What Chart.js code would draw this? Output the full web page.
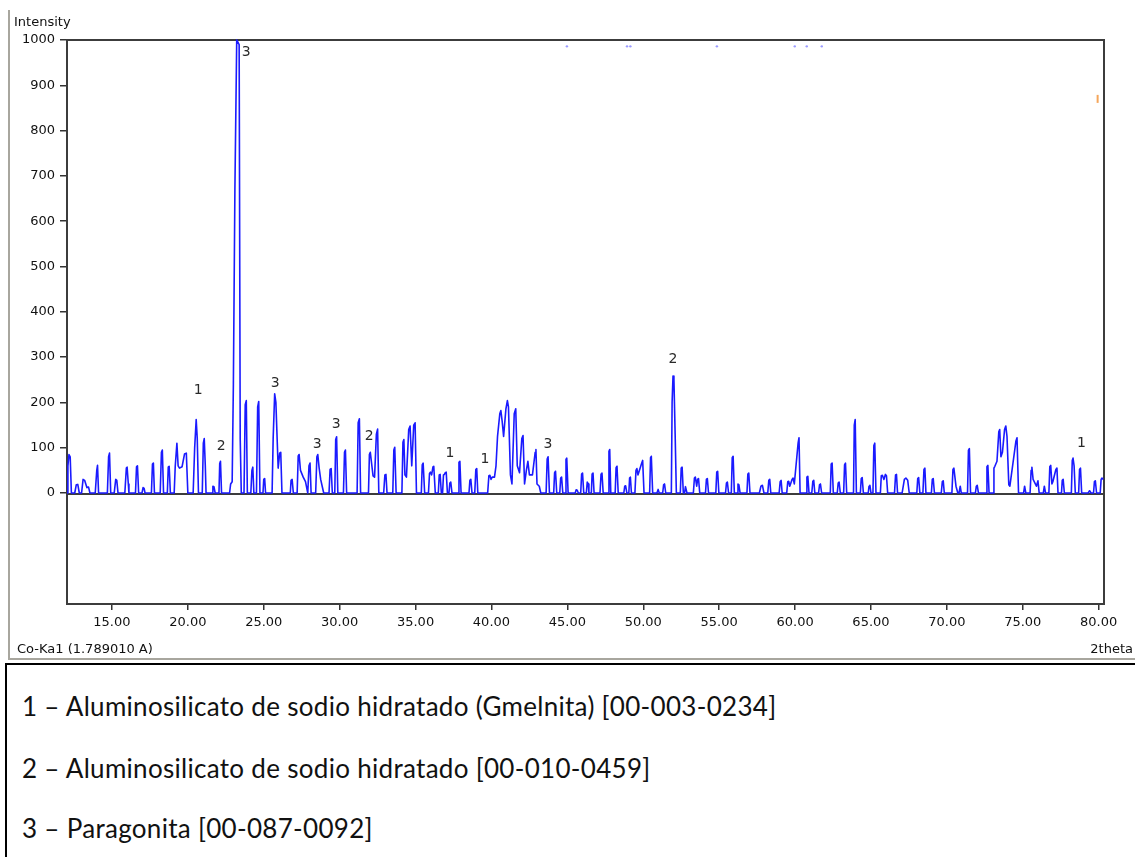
<!DOCTYPE html>
<html>
<head>
<meta charset="utf-8">
<title>XRD pattern</title>
<script src="https://cdn.jsdelivr.net/npm/chart.js@4.4.1/dist/chart.umd.min.js"></script>
<style>
    html, body {
        margin: 0;
        padding: 0;
        background: #ffffff;
        width: 1135px;
        height: 857px;
        overflow: hidden;
        position: relative;
        font-family: "DejaVu Sans", sans-serif;
    }
    #chartBox {
        position: absolute;
        left: 0;
        top: 0;
        width: 1135px;
        height: 660px;
    }
    .winLineV {
        position: absolute;
        left: 8px;
        top: 10px;
        width: 2px;
        height: 649px;
        background: #a8a69e;
    }
    .winLineH {
        position: absolute;
        left: 8px;
        top: 658px;
        width: 1127px;
        height: 2px;
        background: #a8a69e;
    }
    .axisText {
        position: absolute;
        font-size: 13px;
        line-height: 16px;
        color: #111;
        white-space: nowrap;
    }
    #legendBox {
        position: absolute;
        left: 5px;
        top: 663px;
        width: 1140px;
        height: 200px;
        border-left: 2px solid #000;
        border-top: 2px solid #000;
    }
    .legendLine {
        position: absolute;
        left: 15px;
        font-family: Lato, "Open Sans", sans-serif;
        font-size: 26px;
        line-height: 30px;
        letter-spacing: 0.3px;
        color: #111;
        white-space: nowrap;
    }
</style>
</head>
<body>

<div class="winLineV"></div>
<div class="winLineH"></div>

<div id="chartBox"><canvas id="xrdChart" width="1135" height="660"></canvas></div>

<div class="axisText" style="left:14px; top:14px;">Intensity</div>
<div class="axisText" style="left:17px; top:641px;">Co-Ka1 (1.789010 A)</div>
<div class="axisText" style="right:2px; top:641px;">2theta</div>

<div id="legendBox">
    <div class="legendLine" style="top:26px;">1 – Aluminosilicato de sodio hidratado (Gmelnita) [00-003-0234]</div>
    <div class="legendLine" style="top:88px;">2 – Aluminosilicato de sodio hidratado [00-010-0459]</div>
    <div class="legendLine" style="top:148px;">3 – Paragonita [00-087-0092]</div>
</div>

<script>
/* =========================
   DATA
========================= */

const twoTheta = [
    12.04, 12.1, 12.17, 12.25, 12.33, 12.55, 12.65, 12.75, 12.85, 13.0,
    13.1, 13.2, 13.35, 13.46, 13.55, 13.9, 14.0, 14.05, 14.12, 14.7,
    14.78, 14.84, 14.92, 15.15, 15.25, 15.32, 15.4, 15.85, 15.95, 16.0,
    16.08, 16.12, 16.55, 16.62, 16.68, 16.76, 16.98, 17.05, 17.12, 17.18,
    17.6, 17.67, 17.73, 17.8, 18.18, 18.26, 18.32, 18.4, 18.65, 18.71,
    18.77, 18.85, 19.1, 19.17, 19.28, 19.36, 19.45, 19.62, 19.78, 19.9,
    20.0, 20.35, 20.45, 20.55, 20.62, 20.7, 20.95, 21.02, 21.08, 21.15,
    21.2, 21.6, 21.65, 21.72, 21.8, 22.05, 22.1, 22.15, 22.22, 22.75,
    22.82, 22.92, 23.0, 23.1, 23.22, 23.38, 23.45, 23.52, 23.7, 23.78,
    23.85, 23.92, 24.15, 24.22, 24.28, 24.35, 24.52, 24.6, 24.67, 24.75,
    24.95, 25.0, 25.06, 25.12, 25.55, 25.62, 25.72, 25.8, 25.95, 26.05,
    26.12, 26.2, 26.75, 26.8, 26.87, 26.95, 27.2, 27.27, 27.33, 27.42,
    27.6, 27.75, 27.9, 27.98, 28.05, 28.12, 28.42, 28.5, 28.56, 28.65,
    28.75, 28.85, 28.95, 29.3, 29.37, 29.44, 29.52, 29.68, 29.74, 29.8,
    29.88, 30.25, 30.32, 30.38, 30.46, 31.15, 31.22, 31.3, 31.38, 31.9,
    31.96, 32.02, 32.2, 32.3, 32.42, 32.5, 32.58, 32.9, 32.98, 33.05,
    33.12, 33.5, 33.57, 33.63, 33.72, 34.1, 34.17, 34.23, 34.3, 34.4,
    34.55, 34.64, 34.75, 34.88, 34.97, 35.06, 35.38, 35.44, 35.5, 35.6,
    35.85, 35.92, 35.98, 36.06, 36.15, 36.2, 36.3, 36.5, 36.56, 36.62,
    36.7, 36.78, 36.84, 36.9, 36.96, 37.02, 37.1, 37.2, 37.26, 37.32,
    37.4, 37.8, 37.86, 37.92, 38.0, 38.52, 38.58, 38.64, 38.72, 38.9,
    38.97, 39.03, 39.1, 39.75, 39.83, 39.9, 39.97, 40.05, 40.2, 40.3,
    40.4, 40.55, 40.62, 40.7, 40.8, 40.95, 41.05, 41.12, 41.25, 41.35,
    41.5, 41.6, 41.7, 41.85, 42.0, 42.08, 42.18, 42.3, 42.4, 42.5,
    42.7, 42.88, 42.93, 43.0, 43.15, 43.25, 43.6, 43.67, 43.73, 43.82,
    44.1, 44.16, 44.22, 44.3, 44.5, 44.56, 44.62, 44.7, 44.85, 44.91,
    44.96, 45.05, 45.52, 45.58, 45.65, 45.72, 45.88, 45.94, 46.0, 46.08,
    46.25, 46.31, 46.38, 46.42, 46.58, 46.63, 46.69, 46.76, 47.15, 47.22,
    47.28, 47.36, 47.68, 47.74, 47.79, 47.86, 48.15, 48.21, 48.27, 48.35,
    48.72, 48.78, 48.84, 48.92, 49.05, 49.1, 49.15, 49.22, 49.45, 49.52,
    49.58, 49.65, 49.9, 49.96, 50.05, 50.42, 50.48, 50.53, 50.62, 50.9,
    50.98, 51.05, 51.28, 51.34, 51.4, 51.48, 51.85, 51.9, 51.96, 52.02,
    52.1, 52.18, 52.44, 52.5, 52.56, 52.64, 52.72, 52.78, 52.88, 53.3,
    53.37, 53.43, 53.52, 53.58, 53.64, 53.72, 54.1, 54.16, 54.22, 54.3,
    54.78, 54.84, 54.9, 54.98, 55.42, 55.48, 55.54, 55.62, 55.8, 55.86,
    55.92, 56.0, 56.18, 56.24, 56.3, 56.38, 56.83, 56.89, 56.95, 57.03,
    57.65, 57.75, 57.85, 57.95, 58.2, 58.27, 58.33, 58.4, 58.95, 59.02,
    59.08, 59.15, 59.45, 59.52, 59.58, 59.65, 59.8, 59.87, 59.95, 60.2,
    60.26, 60.33, 60.72, 60.78, 60.84, 60.92, 61.1, 61.17, 61.23, 61.3,
    61.55, 61.61, 61.67, 61.75, 62.32, 62.38, 62.44, 62.52, 62.78, 62.84,
    62.9, 62.98, 63.2, 63.26, 63.32, 63.4, 63.85, 63.9, 63.96, 64.04,
    64.3, 64.36, 64.42, 64.5, 64.82, 64.87, 64.93, 65.0, 65.13, 65.19,
    65.25, 65.33, 65.62, 65.68, 65.75, 65.85, 65.95, 66.02, 66.1, 66.55,
    66.62, 66.68, 66.75, 67.05, 67.2, 67.3, 67.42, 67.52, 68.02, 68.08,
    68.14, 68.22, 68.42, 68.49, 68.55, 68.62, 68.98, 69.04, 69.1, 69.18,
    69.63, 69.7, 69.76, 69.83, 70.33, 70.4, 70.46, 70.6, 70.72, 70.8,
    70.88, 70.95, 71.36, 71.42, 71.48, 71.56, 71.88, 71.94, 72.0, 72.08,
    72.58, 72.64, 72.7, 72.78, 73.05, 73.1, 73.16, 73.3, 73.42, 73.48,
    73.56, 73.66, 73.8, 73.88, 73.96, 74.08, 74.15, 74.55, 74.62, 74.72,
    75.05, 75.12, 75.2, 75.48, 75.55, 75.6, 75.68, 75.9, 76.0, 76.08,
    76.35, 76.42, 76.5, 76.72, 76.78, 76.84, 76.92, 76.98, 77.18, 77.25,
    77.32, 77.55, 77.6, 77.66, 77.74, 78.2, 78.26, 78.31, 78.38, 78.46,
    78.68, 78.74, 78.8, 78.88, 79.3, 79.4, 79.5, 79.66, 79.72, 79.78,
    79.86, 80.1, 80.16, 80.22, 80.3
];

const intensity = [
    0, 60, 85, 80, 0, 0, 18, 19, 0, 0,
    30, 28, 12, 13, 0, 0, 50, 61, 0, 0,
    80, 88, 0, 0, 30, 28, 0, 0, 55, 57,
    20, 0, 0, 58, 60, 0, 0, 12, 10, 0,
    0, 64, 66, 0, 0, 90, 95, 0, 0, 57,
    59, 0, 0, 59, 110, 60, 55, 58, 86, 88,
    0, 0, 100, 162, 120, 0, 0, 110, 120, 60,
    0, 0, 15, 14, 0, 0, 65, 70, 0, 0,
    20, 25, 240, 670, 1000, 990, 120, 0, 0, 195,
    204, 0, 0, 50, 57, 0, 0, 190, 202, 0,
    0, 30, 32, 0, 0, 120, 219, 200, 55, 88,
    90, 0, 0, 28, 30, 0, 0, 82, 85, 50,
    35, 25, 0, 60, 66, 0, 0, 80, 85, 55,
    30, 15, 0, 0, 52, 54, 0, 0, 118, 124,
    0, 0, 90, 95, 0, 0, 155, 164, 0, 0,
    85, 90, 38, 35, 130, 141, 0, 0, 40, 41,
    0, 0, 95, 101, 0, 0, 112, 118, 40, 35,
    140, 148, 60, 150, 155, 0, 0, 62, 66, 0,
    0, 43, 46, 40, 58, 59, 0, 0, 40, 41,
    0, 0, 40, 41, 45, 46, 0, 0, 22, 24,
    0, 0, 68, 70, 0, 0, 28, 30, 0, 0,
    52, 54, 0, 0, 38, 39, 30, 35, 35, 60,
    125, 175, 182, 160, 125, 185, 204, 190, 40, 20,
    175, 186, 60, 45, 120, 127, 20, 50, 70, 40,
    40, 90, 96, 20, 15, 0, 0, 75, 80, 0,
    0, 45, 48, 0, 0, 33, 35, 0, 0, 74,
    77, 0, 0, 7, 6, 0, 0, 42, 44, 0,
    0, 24, 20, 0, 0, 42, 44, 0, 0, 42,
    44, 0, 0, 92, 96, 0, 0, 56, 59, 0,
    0, 15, 16, 0, 0, 33, 35, 0, 0, 50,
    54, 40, 66, 72, 0, 0, 78, 81, 0, 0,
    8, 0, 0, 18, 20, 0, 0, 200, 258, 250,
    130, 0, 0, 55, 57, 0, 0, 14, 0, 0,
    33, 35, 15, 30, 32, 0, 0, 30, 32, 0,
    0, 46, 48, 0, 0, 22, 24, 0, 0, 78,
    81, 0, 0, 20, 18, 0, 0, 42, 44, 0,
    0, 15, 17, 0, 0, 28, 30, 0, 0, 25,
    28, 0, 0, 25, 26, 15, 30, 33, 20, 110,
    122, 0, 0, 35, 37, 0, 0, 26, 28, 0,
    0, 18, 20, 0, 0, 64, 66, 0, 0, 22,
    24, 0, 0, 62, 66, 0, 0, 150, 162, 0,
    0, 32, 34, 0, 0, 15, 17, 0, 0, 105,
    110, 0, 0, 38, 39, 30, 41, 38, 0, 0,
    40, 41, 0, 0, 30, 33, 28, 0, 0, 32,
    34, 0, 0, 52, 55, 0, 0, 30, 32, 0,
    0, 25, 27, 0, 0, 52, 55, 15, 0, 0,
    15, 0, 0, 94, 98, 0, 0, 15, 17, 0,
    0, 58, 61, 0, 0, 55, 59, 70, 135, 140,
    80, 90, 140, 148, 125, 18, 15, 115, 122, 0,
    0, 15, 0, 0, 50, 57, 30, 15, 27, 0,
    0, 15, 0, 0, 58, 61, 20, 25, 52, 55,
    0, 0, 28, 30, 0, 0, 72, 77, 60, 0,
    0, 52, 55, 0, 0, 5, 0, 0, 25, 27,
    0, 0, 30, 33, 30
];

// phase markers written over the peaks
const peakLabelText = ["3", "1", "2", "3", "3", "3", "2", "1", "1", "3", "2", "1"];
const peakLabelAngle = [23.84, 20.68, 22.2, 25.75, 28.52, 29.77, 31.94, 37.27, 39.57, 43.72, 51.96, 78.86];
const peakLabelIntensity = [973, 227, 103, 242, 107, 152, 125, 88, 74, 107, 295, 110];

// little reference marks near the top of the frame
const refMarkAngle = [44.97, 48.93, 49.15, 54.85, 59.98, 60.77, 61.76];
const refMarkIntensity = [986, 986, 986, 986, 986, 986, 986];
const otherMarkAngle = [79.93];
const otherMarkIntensity = [870];

// axes
const xTicks = [15, 20, 25, 30, 35, 40, 45, 50, 55, 60, 65, 70, 75, 80];
const yTicks = [0, 100, 200, 300, 400, 500, 600, 700, 800, 900, 1000];
const xRange = [12.04, 80.35];
const yRange = [-245, 1000];

/* =========================
   PLUGINS
========================= */

const framePlugin = {
    id: "frame",
    beforeDatasetsDraw(chart) {
        const a = chart.chartArea;
        const ctx = chart.ctx;
        const y0 = chart.scales.y.getPixelForValue(0);
        ctx.save();
        ctx.strokeStyle = "#3c3c3c";
        ctx.lineWidth = 2;
        ctx.strokeRect(a.left, a.top, a.right - a.left, a.bottom - a.top);
        ctx.beginPath();
        ctx.moveTo(a.left, y0 + 1);
        ctx.lineTo(a.right, y0 + 1);
        ctx.stroke();
        ctx.restore();
    }
};

const peakLabelPlugin = {
    id: "peakLabels",
    afterDraw(chart) {
        const ctx = chart.ctx;
        const xs = chart.scales.x;
        const ys = chart.scales.y;
        ctx.save();
        ctx.font = "14px 'DejaVu Sans'";
        ctx.fillStyle = "#2a2a2a";
        ctx.textAlign = "center";
        ctx.textBaseline = "middle";
        peakLabelText.forEach((t, i) => {
            ctx.fillText(t, xs.getPixelForValue(peakLabelAngle[i]), ys.getPixelForValue(peakLabelIntensity[i]));
        });
        ctx.restore();
    }
};

/* =========================
   CHART
========================= */

Chart.defaults.font.family = "'DejaVu Sans', sans-serif";
Chart.defaults.font.size = 13;
Chart.defaults.color = "#111";

const pattern = twoTheta.map((t, i) => ({ x: t, y: intensity[i] }));

new Chart(document.getElementById("xrdChart"), {
    type: "line",
    data: {
        datasets: [
            {
                label: "Pattern",
                data: pattern,
                borderColor: "#1a1aff",
                borderWidth: 1.6,
                borderJoinStyle: "round",
                pointRadius: 0,
                tension: 0,
                fill: false,
                clip: 2
            },
            {
                label: "Ref marks",
                data: refMarkAngle.map((t, i) => ({ x: t, y: refMarkIntensity[i] })),
                showLine: false,
                pointRadius: 1.2,
                pointBackgroundColor: "#9a9aff",
                pointBorderWidth: 0
            },
            {
                label: "Other mark",
                data: otherMarkAngle.map((t, i) => ({ x: t, y: otherMarkIntensity[i] })),
                showLine: false,
                pointStyle: "line",
                rotation: 90,
                pointRadius: 4,
                borderColor: "#f5a65b",
                pointBorderWidth: 2
            }
        ]
    },
    options: {
        responsive: false,
        animation: false,
        devicePixelRatio: 1,
        layout: {
            padding: { left: 0, top: 40, right: 31, bottom: 0 }
        },
        plugins: {
            legend: { display: false },
            tooltip: { enabled: false }
        },
        scales: {
            x: {
                type: "linear",
                min: xRange[0],
                max: xRange[1],
                afterBuildTicks: s => { s.ticks = xTicks.map(v => ({ value: v })); },
                afterFit: s => { s.height = 56; },
                ticks: {
                    padding: 5,
                    maxRotation: 0,
                    autoSkip: false,
                    color: "#111",
                    callback: v => Number(v).toFixed(2)
                },
                grid: {
                    drawOnChartArea: false,
                    drawTicks: true,
                    tickLength: 6,
                    color: "#333",
                    lineWidth: 1.5
                },
                border: { display: true, color: "#3c3c3c", width: 2 }
            },
            y: {
                type: "linear",
                min: yRange[0],
                max: yRange[1],
                afterBuildTicks: s => { s.ticks = yTicks.map(v => ({ value: v })); },
                afterFit: s => { s.width = 67; },
                ticks: {
                    padding: 5,
                    color: "#111",
                    autoSkip: false,
                    callback: v => String(v)
                },
                grid: {
                    drawOnChartArea: false,
                    drawTicks: true,
                    tickLength: 7,
                    color: "#333",
                    lineWidth: 1.5
                },
                border: { display: true, color: "#3c3c3c", width: 2 }
            }
        }
    },
    plugins: [framePlugin, peakLabelPlugin]
});
</script>
</body>
</html>
